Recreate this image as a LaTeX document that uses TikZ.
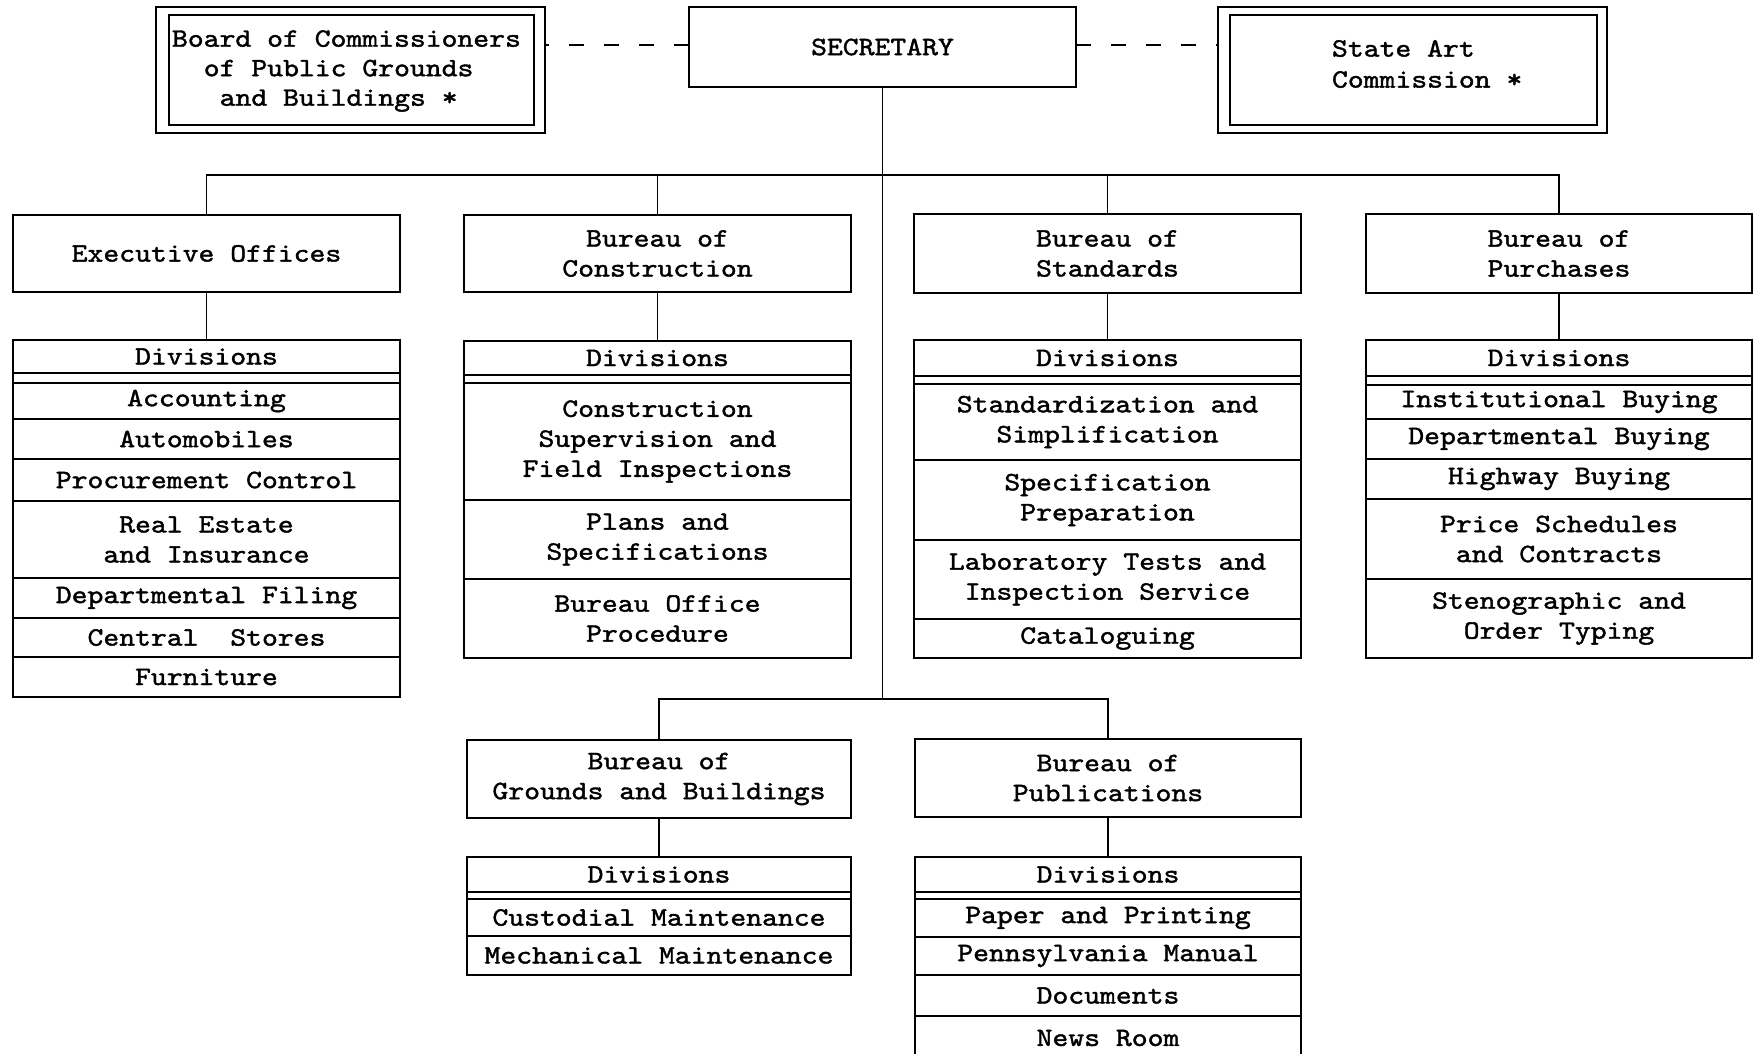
\documentclass[tikz,border=0pt]{standalone}
\usepackage{fontspec}
\newfontfamily\tw{lmmono10-regular.otf}[FakeStretch=1.14, FakeBold=1.5]
\begin{document}
\begin{tikzpicture}[x=1pt,y=-1pt,
  every node/.style={inner sep=0pt, outer sep=0pt},
  txt/.style={font=\tw\fontsize{26.5}{30}\selectfont},
  box/.style={txt, draw, line width=1.6pt, align=center},
  cell/.style n args={2}{box, minimum width=#1pt, minimum height=#2pt, anchor=north},
  frame/.style={draw, line width=1.6pt},
  link/.style={line width=1.6pt},
  dashlink/.style={line width=1.6pt, dash pattern=on 15pt off 20pt},
]
\useasboundingbox[fill=white] (0,0) rectangle (1756,1053);

% ---------- top row ----------
\node[box, minimum width=387pt, minimum height=80pt] (sec) at (882.5,47) {SECRETARY};

\node[frame, minimum width=389pt, minimum height=126pt] (boardframe) at (350.5,70) {};
\node[frame, minimum width=365pt, minimum height=110pt] (boardbox) at (351.5,70) {};
\node[txt, anchor=west, align=left, font=\tw\fontsize{26.5}{29.5}\selectfont] (boardtxt) at (172,71)
  {Board of Commissioners\\\hspace*{1.2em}of Public Grounds\\\hspace*{1.8em}and Buildings *};

\node[frame, minimum width=389pt, minimum height=126pt] (stateframe) at (1412.5,70) {};
\node[frame, minimum width=367pt, minimum height=110pt] (statebox) at (1413.5,70) {};
\node[txt, anchor=west, align=left, font=\tw\fontsize{26.5}{31}\selectfont] (statetxt) at (1332,64) {State Art\\Commission *};

\draw[dashlink] (sec.west |- 0,45) -- (boardframe.east |- 0,45);
\draw[dashlink] (sec.east |- 0,45) -- (stateframe.west |- 0,45);

% ---------- Executive Offices ----------
\node[cell={387}{77}] (exec) at (206.5,215) {Executive Offices};
\node[cell={387}{33}] (exdiv) at (206.5,340) {Divisions};
\node[cell={387}{36}] (ex1) at (206.5,383) {Accounting};
\node[cell={387}{40}] (ex2) at (206.5,419) {Automobiles};
\node[cell={387}{42}] (ex3) at (206.5,459) {Procurement Control};
\node[cell={387}{77}] (ex4) at (206.5,501) {Real Estate\\and Insurance};
\node[cell={387}{40}] (ex5) at (206.5,578) {Departmental Filing};
\node[cell={387}{39}] (ex6) at (206.5,618) {Central\ \ Stores};
\node[cell={387}{40}] (ex7) at (206.5,657) {Furniture};

% ---------- Bureau of Construction ----------
\node[cell={387}{77}] (con) at (657.5,215) {Bureau of\\Construction};
\node[cell={387}{34}] (condiv) at (657.5,341) {Divisions};
\node[cell={387}{117}] (con1) at (657.5,383) {Construction\\Supervision and\\Field Inspections};
\node[cell={387}{79}] (con2) at (657.5,500) {Plans and\\Specifications};
\node[cell={387}{79}] (con3) at (657.5,579) {Bureau Office\\Procedure};

% ---------- Bureau of Standards ----------
\node[cell={387}{79}] (std) at (1107.5,214) {Bureau of\\Standards};
\node[cell={387}{36}] (stddiv) at (1107.5,340) {Divisions};
\node[cell={387}{76}] (std1) at (1107.5,384) {Standardization and\\Simplification};
\node[cell={387}{80}] (std2) at (1107.5,460) {Specification\\Preparation};
\node[cell={387}{79}] (std3) at (1107.5,540) {Laboratory Tests and\\Inspection Service};
\node[cell={387}{39}] (std4) at (1107.5,619) {Cataloguing};

% ---------- Bureau of Purchases ----------
\node[cell={386}{79}] (pur) at (1559,214) {Bureau of\\Purchases};
\node[cell={386}{36}] (purdiv) at (1559,340) {Divisions};
\node[cell={386}{34}] (pur1) at (1559,385) {Institutional Buying};
\node[cell={386}{40}] (pur2) at (1559,419) {Departmental Buying};
\node[cell={386}{40}] (pur3) at (1559,459) {Highway Buying};
\node[cell={386}{80}] (pur4) at (1559,499) {Price Schedules\\and Contracts};
\node[cell={386}{79}] (pur5) at (1559,579) {Stenographic and\\Order Typing};

% ---------- Bureau of Grounds and Buildings ----------
\node[cell={384}{78}] (grd) at (659,740) {Bureau of\\Grounds and Buildings};
\node[cell={384}{35}] (grddiv) at (659,857) {Divisions};
\node[cell={384}{37}] (grd1) at (659,899) {Custodial Maintenance};
\node[cell={384}{39}] (grd2) at (659,936) {Mechanical Maintenance};

% ---------- Bureau of Publications ----------
\node[cell={386}{78}] (pub) at (1108,739) {Bureau of\\Publications};
\node[cell={386}{35}] (pubdiv) at (1108,857) {Divisions};
\node[cell={386}{38}] (pub1) at (1108,899) {Paper and Printing};
\node[cell={386}{38}] (pub2) at (1108,937) {Pennsylvania Manual};
\node[cell={386}{41}] (pub3) at (1108,975) {Documents};
\node[cell={386}{44}, draw=none] (pub4) at (1108,1016) {News Room};
\draw[link] ([yshift=-30pt]pub4.south west) -- (pub4.north west) -- (pub4.north east) -- ([yshift=-30pt]pub4.south east);

% ---------- double rule under each "Divisions" heading ----------
\foreach \h/\r in {exdiv/ex1, condiv/con1, stddiv/std1, purdiv/pur1, grddiv/grd1, pubdiv/pub1} {
  \draw[link] (\h.south west) -- (\r.north west) (\h.south east) -- (\r.north east);
}

% ---------- bureau to divisions ----------
\foreach \b/\d in {exec/exdiv, con/condiv, std/stddiv, pur/purdiv, grd/grddiv, pub/pubdiv} {
  \draw[link] (\b.south) -- (\d.north);
}

% ---------- secretary to bureaus ----------
\coordinate (bus) at (882.5,175);
\coordinate (lowbus) at (882.5,699);
\draw[link] (sec.south) -- (lowbus);
\draw[link] (exec.north) |- (bus) -| (pur.north);
\draw[link] (con.north) -- (con.north |- bus);
\draw[link] (std.north) -- (std.north |- bus);
\draw[link] (grd.north) |- (lowbus) -| (pub.north);
\end{tikzpicture}
\end{document}
